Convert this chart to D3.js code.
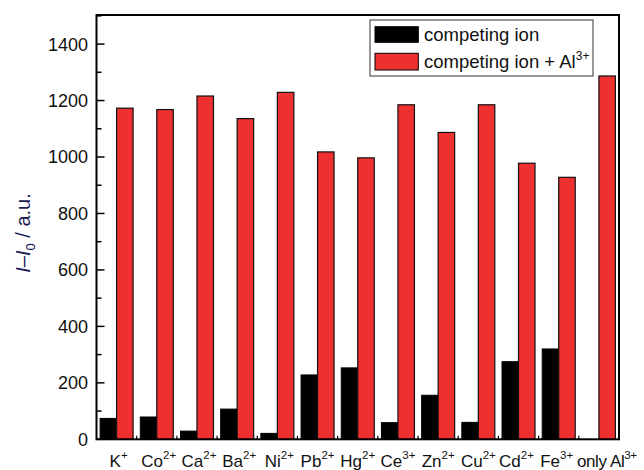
<!DOCTYPE html>
<html><head><meta charset="utf-8">
<script src="https://cdn.jsdelivr.net/npm/d3@7/dist/d3.min.js"></script>
<style>body{margin:0;background:#fff;} text{font-family:Arial,"Liberation Sans",sans-serif;}</style>
</head><body><svg id="c" width="644" height="470"></svg>
<script>
const categories = [["K","+"],["Co","2+"],["Ca","2+"],["Ba","2+"],["Ni","2+"],["Pb","2+"],["Hg","2+"],["Ce","3+"],["Zn","2+"],["Cu","2+"],["Cd","2+"],["Fe","3+"],["only Al","3+"]];
const competing = [74, 79, 29, 107, 21, 228, 253, 59, 156, 60, 275, 320, 0];
const withAl = [1173, 1168, 1216, 1136, 1229, 1018, 997, 1185, 1087, 1185, 978, 928, 1287];
const yTicks = [0, 200, 400, 600, 800, 1000, 1200, 1400];
const seriesNames = ["competing ion", "competing ion + Al"];

const svg = d3.select("#c");
const W = 644;
const L = 96.5, R = 619, T = 15, B = 439.3;
const x = d3.scaleBand().domain(d3.range(categories.length)).range([L, R]).paddingInner(0).paddingOuter(0);
const y = d3.scaleLinear().domain([0, 1503]).range([B, T]);
const red = "#ee3030";

const pad = 3.6;
const bw = (x.bandwidth() - 2 * pad) / 2;
const g = svg.append("g");
categories.forEach((c, i) => {
  const x0 = x(i) + pad;
  if (competing[i] > 0)
    g.append("rect").attr("x", x0).attr("y", y(competing[i])).attr("width", bw).attr("height", B - y(competing[i]))
      .attr("fill", "#000").attr("stroke", "#000").attr("stroke-width", 1);
  g.append("rect").attr("x", x0 + bw).attr("y", y(withAl[i])).attr("width", bw).attr("height", B - y(withAl[i]))
    .attr("fill", red).attr("stroke", "#111").attr("stroke-width", 1.2);
});

// frame
svg.append("rect").attr("x", L).attr("y", T).attr("width", R - L).attr("height", B - T)
  .attr("fill", "none").attr("stroke", "#000").attr("stroke-width", 2);

// y axis ticks (inside)
const ya = svg.append("g");
d3.range(0, 1501, 100).forEach(v => {
  const major = v % 200 === 0;
  ya.append("line").attr("x1", L).attr("x2", L + (major ? 8 : 5)).attr("y1", y(v)).attr("y2", y(v))
    .attr("stroke", "#000").attr("stroke-width", 1.5);
});
yTicks.forEach(v => {
  ya.append("text").attr("x", L - 8.5).attr("y", y(v)).attr("dy", "0.36em").attr("text-anchor", "end")
    .attr("font-size", 18).attr("fill", "#111").text(v);
});

// x minor ticks at group boundaries
for (let i = 1; i < categories.length; i++) {
  svg.append("line").attr("x1", x(i)).attr("x2", x(i)).attr("y1", B).attr("y2", B - 3.5)
    .attr("stroke", "#000").attr("stroke-width", 1.2);
}

// x labels
const last = categories.length - 1;
categories.forEach((c, i) => {
  const t = svg.append("text").attr("y", 467).attr("font-size", 17).attr("fill", "#111");
  if (i === last) {
    t.attr("x", 577).attr("text-anchor", "start").attr("letter-spacing", -0.4);
  } else {
    t.attr("x", x(i) + x.bandwidth() / 2 + (i < 5 ? 2 : (i >= 10 ? -2 : 0))).attr("text-anchor", "middle");
  }
  t.append("tspan").text(c[0]);
  t.append("tspan").attr("font-size", 11.5).attr("dy", -8).text(c[1]);
  if (i === last) {
    const bb = t.node().getBBox();
    if (bb.x + bb.width > W - 0.5) {
      const s = (W - 0.5 - bb.x) / bb.width;
      t.attr("transform", `translate(${bb.x},0) scale(${s},1) translate(${-bb.x},0)`);
    }
  }
});

// y label
const yl = svg.append("text").attr("transform", "translate(30,233) rotate(-90)").attr("text-anchor", "middle")
  .attr("font-size", 20).attr("fill", "#1b1b55");
yl.append("tspan").attr("font-style", "italic").text("I");
yl.append("tspan").text("–");
yl.append("tspan").attr("font-style", "italic").text("I");
yl.append("tspan").attr("font-size", 13).attr("dy", 5).text("0");
yl.append("tspan").attr("dy", -5).text(" / a.u.");

// legend
const lg = svg.append("g");
lg.append("rect").attr("x", 370).attr("y", 20).attr("width", 223).attr("height", 56)
  .attr("fill", "#fff").attr("stroke", "#333").attr("stroke-width", 1);
[["#000", 26.7, 42.3], [red, 53.3, 70]].forEach((s, i) => {
  lg.append("rect").attr("x", 375).attr("y", s[1]).attr("width", 43.3).attr("height", s[2] - s[1])
    .attr("fill", s[0]).attr("stroke", "#000").attr("stroke-width", 1);
  const t = lg.append("text").attr("x", 424).attr("y", i === 0 ? 40.5 : 68).attr("font-size", 18.5).attr("fill", "#111");
  t.append("tspan").text(seriesNames[i]);
  if (i === 1) t.append("tspan").attr("font-size", 12).attr("dy", -8).text("3+");
});
</script></body></html>
